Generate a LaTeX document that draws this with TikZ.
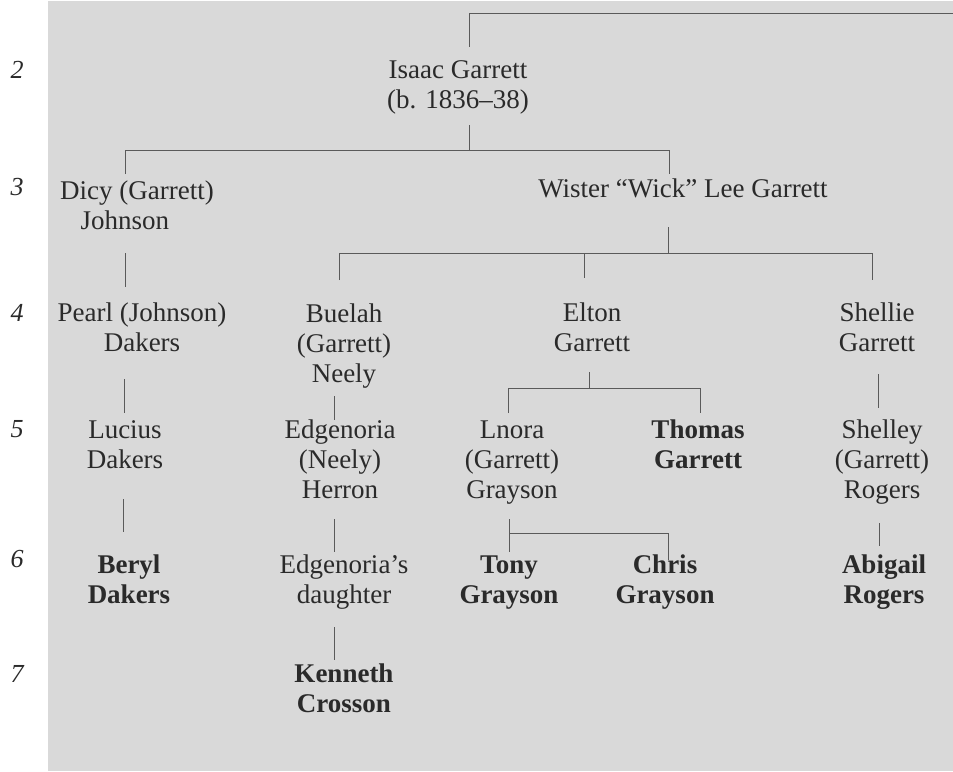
\documentclass[tikz,border=0pt]{standalone}
\usepackage{fontspec}
\setmainfont{Liberation Serif}
\usepackage{xcolor}
\definecolor{bg}{HTML}{D9D9D9}
\definecolor{ink}{HTML}{2A2A2A}
\definecolor{wire}{HTML}{5A5A5A}
\newcommand\famtxt[1]{\begin{tabular}[t]{@{}c@{}}#1\end{tabular}}
\begin{document}
\begin{tikzpicture}[x=1pt,y=-1pt,
  person/.style={anchor=base, inner sep=0pt, text=ink, font=\fontsize{27}{30}\selectfont},
  heir/.style={person, font=\fontsize{27}{30}\selectfont\bfseries},
  gen/.style={anchor=base, inner sep=0pt, text=ink, font=\fontsize{26}{30}\selectfont\itshape},
  link/.style={draw=wire, line width=1pt}]
\useasboundingbox (0,0) rectangle (953,771);
\fill[bg] (48,1) rectangle (953,771);

% generation numbers
\node[gen] (g2) at (17,78) {2};
\node[gen] (g3) at (17,195) {3};
\node[gen] (g4) at (17,321) {4};
\node[gen] (g5) at (17,437) {5};
\node[gen] (g6) at (17,567) {6};
\node[gen] (g7) at (17,682) {7};

% people
\node[person] (isaac) at (458,78) {\famtxt{Isaac Garrett\\(b. 1836--38)}};
\node[person] (dicy) at (137,199) {\famtxt{Dicy (Garrett)\\Johnson\rule{24pt}{0pt}}};
\node[person] (wister) at (683,197) {\famtxt{Wister ``Wick'' Lee Garrett}};
\node[person] (pearl) at (142,321) {\famtxt{Pearl (Johnson)\\Dakers}};
\node[person] (buelah) at (344,322) {\famtxt{Buelah\\(Garrett)\\Neely}};
\node[person] (elton) at (592,321) {\famtxt{Elton\\Garrett}};
\node[person] (shellie) at (877,321) {\famtxt{Shellie\\Garrett}};
\node[person] (lucius) at (125,438) {\famtxt{Lucius\\Dakers}};
\node[person] (edgenoria) at (340,438) {\famtxt{Edgenoria\\(Neely)\\Herron}};
\node[person] (lnora) at (512,438) {\famtxt{Lnora\\(Garrett)\\Grayson}};
\node[heir] (thomas) at (698,438) {\famtxt{Thomas\\Garrett}};
\node[person] (shelley) at (882,438) {\famtxt{Shelley\\(Garrett)\\Rogers}};
\node[heir] (beryl) at (129,573) {\famtxt{Beryl\\Dakers}};
\node[person] (daughter) at (344,573) {\famtxt{Edgenoria's\\daughter}};
\node[heir] (tony) at (509,573) {\famtxt{Tony\\Grayson}};
\node[heir] (chris) at (665,573) {\famtxt{Chris\\Grayson}};
\node[heir] (abigail) at (884,573) {\famtxt{Abigail\\Rogers}};
\node[heir] (kenneth) at (344,682) {\famtxt{Kenneth\\Crosson}};

% junction coordinates
\coordinate (topR) at (953,13);
\coordinate (topL) at (469,13);
\coordinate (isaacUp) at (469,47);
\coordinate (isaacDn) at (469,125);
\coordinate (barI) at (469,150);
\coordinate (barIL) at (125,150);
\coordinate (barIR) at (669,150);
\coordinate (dicyUp) at (125,174);
\coordinate (wisterUp) at (669,174);
\coordinate (wisterDn) at (668,227);
\coordinate (barW) at (668,253);
\coordinate (barWL) at (339,253);
\coordinate (barWM) at (584,253);
\coordinate (barWR) at (872,253);
\coordinate (buelahUp) at (339,280);
\coordinate (eltonUp) at (584,278);
\coordinate (shellieUp) at (872,280);
\coordinate (dicyDn) at (125,253);
\coordinate (pearlUp) at (125,287);
\coordinate (pearlDn) at (124,379);
\coordinate (luciusUp) at (124,413);
\coordinate (luciusDn) at (123,499);
\coordinate (berylUp) at (123,532);
\coordinate (buelahDn) at (334,396);
\coordinate (edgUp) at (334,420);
\coordinate (edgDn) at (334,519);
\coordinate (daughterUp) at (334,552);
\coordinate (daughterDn) at (334,627);
\coordinate (kennethUp) at (334,660);
\coordinate (eltonDn) at (589,372);
\coordinate (barE) at (589,388);
\coordinate (barEL) at (508,388);
\coordinate (barER) at (700,388);
\coordinate (lnoraUp) at (508,413);
\coordinate (thomasUp) at (700,413);
\coordinate (lnoraDn) at (509,519);
\coordinate (barL) at (509,533);
\coordinate (tonyUp) at (509,552);
\coordinate (barLR) at (668,533);
\coordinate (chrisUp) at (668,560);
\coordinate (shellieDn) at (878,374);
\coordinate (shelleyUp) at (878,408);
\coordinate (shelleyDn) at (879,523);
\coordinate (abigailUp) at (879,546);

% connectors
\path[link] (topR) -- (topL) -- (isaacUp);
\path[link] (isaacDn) -- (barI);
\path[link] (dicyUp) -- (barIL) -- (barIR) -- (wisterUp);
\path[link] (wisterDn) -- (barW);
\path[link] (buelahUp) -- (barWL) -- (barWR) -- (shellieUp);
\path[link] (barWM) -- (eltonUp);
\path[link] (dicyDn) -- (pearlUp);
\path[link] (pearlDn) -- (luciusUp);
\path[link] (luciusDn) -- (berylUp);
\path[link] (buelahDn) -- (edgUp);
\path[link] (edgDn) -- (daughterUp);
\path[link] (daughterDn) -- (kennethUp);
\path[link] (eltonDn) -- (barE);
\path[link] (lnoraUp) -- (barEL) -- (barER) -- (thomasUp);
\path[link] (lnoraDn) -- (tonyUp);
\path[link] (barL) -- (barLR) -- (chrisUp);
\path[link] (shellieDn) -- (shelleyUp);
\path[link] (shelleyDn) -- (abigailUp);
\end{tikzpicture}
\end{document}
